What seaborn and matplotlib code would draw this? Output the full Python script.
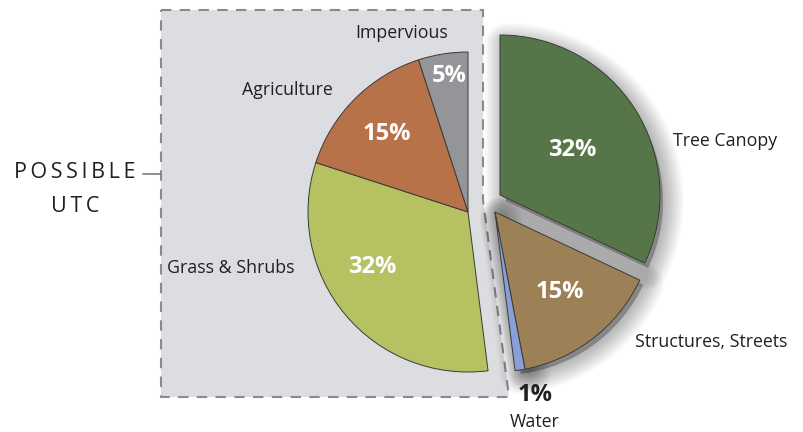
import seaborn as sns
import matplotlib.pyplot as plt
from matplotlib.patches import Polygon, Wedge

# Data
categories = ["Tree Canopy", "Structures, Streets", "Water", "Grass & Shrubs", "Agriculture", "Impervious"]
shares = [32, 15, 1, 32, 15, 5]
colors = ["#56764a", "#9c8156", "#8a9fd8", "#b6c261", "#b8724a", "#939598"]
group_label = ["POSSIBLE", "UTC"]

sns.set_theme(style="white")
plt.rcParams['font.family'] = ['Open Sans', 'DejaVu Sans']

W, H = 804, 432
fig = plt.figure(figsize=(8.04, 4.32), dpi=100)
ax = fig.add_axes([0, 0, 1, 1])

def py(y):
    # pixel row -> data y
    return H - y

cx, cy, r = 468, py(212), 160
text_c = "#231f20"

# dashed box round the "possible UTC" part
box = Polygon([(161, py(10)), (483, py(10)), (483, py(200)), (509, py(397)), (161, py(397))],
              closed=True, facecolor="#dcdde0", edgecolor="#8a8a8a",
              linewidth=1.5, linestyle=(0, (5, 4)), zorder=1)
ax.add_patch(box)

wedges, _ = ax.pie(shares, colors=colors, startangle=90, counterclock=False,
                   center=(cx, cy), radius=r,
                   wedgeprops=dict(edgecolor="#3a3a3a", linewidth=0.7))

# pull the existing-cover slices out to the right
offsets = {0: (32, 17), 1: (27, 0), 2: (27, 0)}
for i, w in enumerate(wedges):
    w.set_zorder(3)
    if i in offsets:
        dx, dy = offsets[i]
        w.set_center((cx + dx, cy + dy))
        # soft drop shadow
        for lw in range(30, 0, -2):
            sh = Wedge((cx + dx + 6, cy + dy - 6), r - 3, w.theta1, w.theta2,
                       facecolor="black", edgecolor="black", linewidth=lw,
                       alpha=0.018, joinstyle="round", zorder=2)
            ax.add_patch(sh)

# category labels
label_pos = [(725, 141), (711, 342), (535, 422), (231, 268), (287, 90), (402, 33)]
for name, (x, y) in zip(categories, label_pos):
    ax.text(x, py(y), name, ha="center", va="center", fontsize=12.8, color=text_c, zorder=5)

# percentages
pct_pos = [(572, 150), (560, 292), (535, 395), (372, 267), (387, 134), (449, 76)]
for v, (x, y), name in zip(shares, pct_pos, categories):
    c = text_c if name == "Water" else "white"
    ax.text(x, py(y), f"{v}%", ha="center", va="center", fontsize=17,
            fontweight="bold", color=c, zorder=5)

# side label
ax.text(75, py(173), "\u2009".join(group_label[0]), ha="center", va="center",
        fontsize=15.5, color=text_c)
ax.text(75, py(206), "\u2009".join(group_label[1]), ha="center", va="center",
        fontsize=15.5, color=text_c)
ax.plot([143, 160], [py(174), py(174)], color="#7a7a7a", linewidth=1.2)

ax.set_xlim(0, W)
ax.set_ylim(0, H)
ax.set_aspect("auto")
ax.axis("off")

plt.savefig("out.png", dpi=100)
